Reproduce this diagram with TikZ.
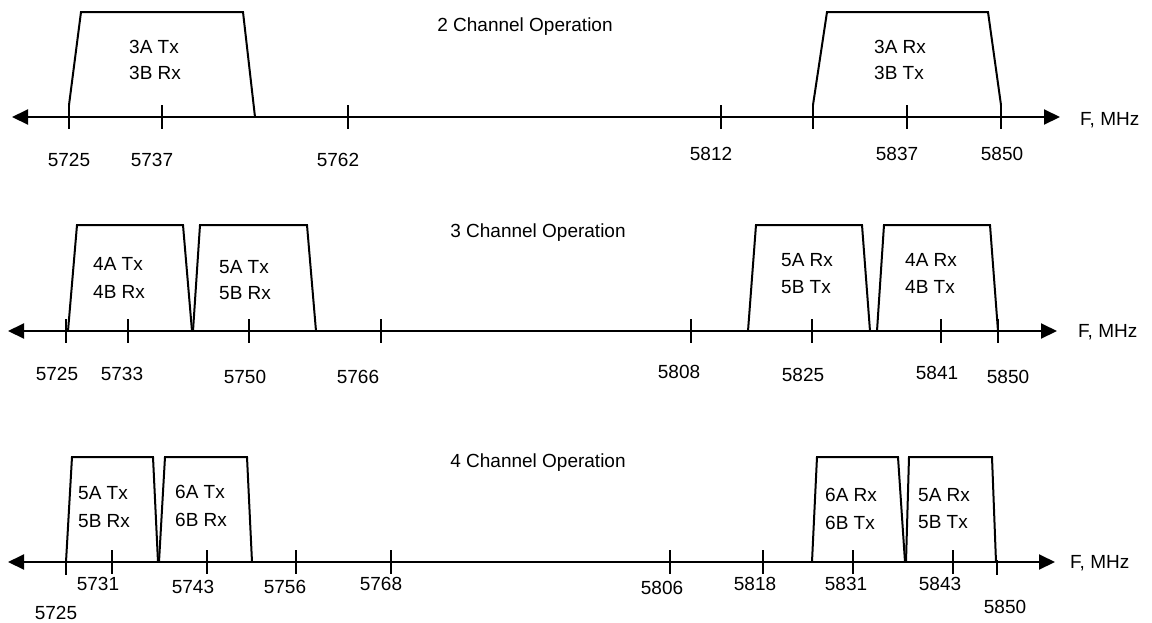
\documentclass[tikz,border=0pt]{standalone}
\usepackage{fontspec}
\setmainfont{Liberation Sans}
\usetikzlibrary{arrows.meta}
\begin{document}
\begin{tikzpicture}[x=1pt,y=-1pt,
  axisline/.style={line width=2pt,{Triangle[length=16pt,width=15pt]}-{Triangle[length=16pt,width=15pt]}},
  band/.style={line width=2pt,line join=miter},
  tickmark/.style={line width=2pt},
  num/.style={inner sep=0pt,font=\fontsize{19}{22}\selectfont},
  lbl/.style={inner sep=0pt,anchor=west,font=\fontsize{19}{22}\selectfont},
  ttl/.style={inner sep=0pt,anchor=base,font=\fontsize{19}{22}\selectfont},
  unit/.style={inner sep=0pt,anchor=base west,font=\fontsize{19}{22}\selectfont}]
\useasboundingbox (0,0) rectangle (1152,622);

% ---------------- Row 1: 2 Channel Operation ----------------
\node[ttl] (t1) at (525,31) {2 Channel Operation};
\coordinate (a1l) at (12,117);
\coordinate (a1r) at (1060,117);
\draw[axisline] (a1l) -- (a1r);
\node[unit] (u1) at (1080,125) {F, MHz};
\foreach \x in {69,162,348,721,813,907,1001}
  \draw[tickmark] (\x,105) -- (\x,129);
\draw[band] (69,105) -- (81,12) -- (243,12) -- (255,117);
\draw[band] (813,105) -- (827,12) -- (988,12) -- (1001,105);
\node[lbl] (b1a) at (129,47) {3A Tx};
\node[lbl] (b1b) at (129,73) {3B Rx};
\node[lbl] (b2a) at (874,47) {3A Rx};
\node[lbl] (b2b) at (874,73) {3B Tx};
\node[num] (n1a) at (69,160) {5725};
\node[num] (n1b) at (152,160) {5737};
\node[num] (n1c) at (338,160) {5762};
\node[num] (n1d) at (711,154) {5812};
\node[num] (n1e) at (897,154) {5837};
\node[num] (n1f) at (1002,154) {5850};

% ---------------- Row 2: 3 Channel Operation ----------------
\node[ttl] (t2) at (538,237) {3 Channel Operation};
\coordinate (a2l) at (8,331);
\coordinate (a2r) at (1057,331);
\draw[axisline] (a2l) -- (a2r);
\node[unit] (u2) at (1078,337) {F, MHz};
\foreach \x in {66,128,249,381,691,812,941,998}
  \draw[tickmark] (\x,319) -- (\x,343);
\draw[band] (68,331) -- (77,225) -- (183,225) -- (192,331);
\draw[band] (193,331) -- (200,225) -- (307,225) -- (316,331);
\draw[band] (748,331) -- (756,225) -- (862,225) -- (870,331);
\draw[band] (877,331) -- (884,225) -- (990,225) -- (998,331);
\node[lbl] (c1a) at (93,264) {4A Tx};
\node[lbl] (c1b) at (93,292) {4B Rx};
\node[lbl] (c2a) at (219,267) {5A Tx};
\node[lbl] (c2b) at (219,293) {5B Rx};
\node[lbl] (c3a) at (781,260) {5A Rx};
\node[lbl] (c3b) at (781,287) {5B Tx};
\node[lbl] (c4a) at (905,260) {4A Rx};
\node[lbl] (c4b) at (905,287) {4B Tx};
\node[num] (n2a) at (57,374) {5725};
\node[num] (n2b) at (122,374) {5733};
\node[num] (n2c) at (245,377) {5750};
\node[num] (n2d) at (358,377) {5766};
\node[num] (n2e) at (679,372) {5808};
\node[num] (n2f) at (803,375) {5825};
\node[num] (n2g) at (937,373) {5841};
\node[num] (n2h) at (1008,377) {5850};

% ---------------- Row 3: 4 Channel Operation ----------------
\node[ttl] (t3) at (538,467) {4 Channel Operation};
\coordinate (a3l) at (8,562);
\coordinate (a3r) at (1055,562);
\draw[axisline] (a3l) -- (a3r);
\node[unit] (u3) at (1070,568) {F, MHz};
\foreach \x in {112,207,296,391,670,763,853,953}
  \draw[tickmark] (\x,550) -- (\x,574);
\foreach \x in {66,997}
  \draw[tickmark] (\x,560) -- (\x,575);
\draw[band] (66,562) -- (72,457) -- (153,457) -- (158,562);
\draw[band] (159,562) -- (165,457) -- (247,457) -- (252,562);
\draw[band] (812,562) -- (817,457) -- (898,457) -- (905,562);
\draw[band] (906,562) -- (909,457) -- (992,457) -- (996,562);
\node[lbl] (d1a) at (78,493) {5A Tx};
\node[lbl] (d1b) at (78,521) {5B Rx};
\node[lbl] (d2a) at (175,492) {6A Tx};
\node[lbl] (d2b) at (175,520) {6B Rx};
\node[lbl] (d3a) at (825,495) {6A Rx};
\node[lbl] (d3b) at (825,523) {6B Tx};
\node[lbl] (d4a) at (918,495) {5A Rx};
\node[lbl] (d4b) at (918,522) {5B Tx};
\node[num] (n3a) at (56,613) {5725};
\node[num] (n3b) at (98,584) {5731};
\node[num] (n3c) at (193,587) {5743};
\node[num] (n3d) at (285,587) {5756};
\node[num] (n3e) at (381,584) {5768};
\node[num] (n3f) at (662,588) {5806};
\node[num] (n3g) at (755,584) {5818};
\node[num] (n3h) at (846,584) {5831};
\node[num] (n3i) at (940,584) {5843};
\node[num] (n3j) at (1005,607) {5850};
\end{tikzpicture}
\end{document}
